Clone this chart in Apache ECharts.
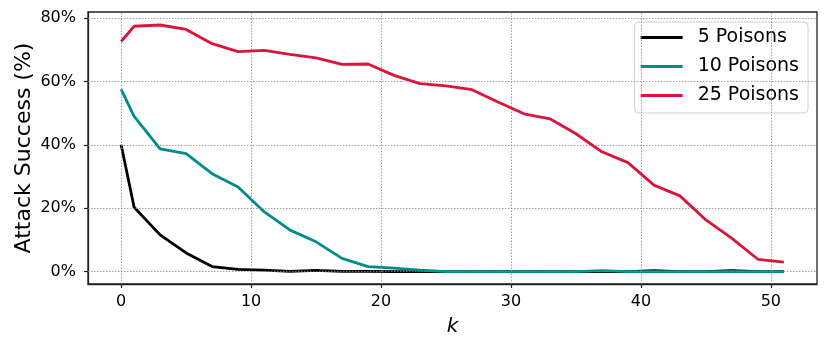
<!DOCTYPE html>
<html><head><meta charset="utf-8">
<script src="https://cdn.jsdelivr.net/npm/echarts@6/dist/echarts.min.js"></script>
<style>html,body{margin:0;padding:0;background:#fff}#c{width:830px;height:352px}</style>
</head><body><div id="c"></div>
<script>
const kValues = [0,1,3,5,7,9,11,13,15,17,19,21,23,25,27,29,31,33,35,37,39,41,43,45,47,49,51];
const poisons5 = [40.0,20.3,11.6,5.9,1.6,0.7,0.5,0.1,0.4,0.1,0.1,0,0,0,0,0,0,0,0,0,0,0.3,0,0,0.3,0,0];
const poisons10 = [57.5,49.0,38.7,37.2,30.9,26.7,18.9,13.1,9.4,4.2,1.6,1.1,0.5,0,0,0,0,0,0,0.3,0,0,0,0,0,0,0];
const poisons25 = [72.6,77.4,77.8,76.4,71.9,69.4,69.8,68.5,67.4,65.4,65.5,61.9,59.3,58.6,57.4,53.5,49.8,48.2,43.5,37.8,34.4,27.3,23.9,16.3,10.5,3.9,3.0];
const seriesNames = ['5 Poisons','10 Poisons','25 Poisons'];
const xTicks = [0,10,20,30,40,50];
const yTicks = [0,20,40,60,80];

const font = 'DejaVu Sans';
const gridStyle = {color:'#888', width:0.8, type:[1.5,1.5]};
function pairs(v){ return kValues.map((k,i)=>[k,v[i]]); }
const colors = ['#000000','#008B8B','#DC143C'];
const chart = echarts.init(document.getElementById('c'), null, {renderer:'canvas'});
const gridLines = {
  silent:true, symbol:'none', label:{show:false},
  lineStyle:gridStyle,
  data: xTicks.map(v=>({xAxis:v})).concat(yTicks.map(v=>({yAxis:v})))
};
const axisLineStyle = {show:true,onZero:false,lineStyle:{color:'#222',width:1.3}};
chart.setOption({
  animation:false,
  color:colors,
  grid:{left:88,right:13,top:12,bottom:68,show:true,borderColor:'#222',borderWidth:1.3,backgroundColor:'transparent'},
  legend:{
    orient:'vertical', right:22, top:22,
    data:seriesNames,
    itemWidth:42, itemHeight:3, icon:'rect', itemGap:10,
    backgroundColor:'rgba(255,255,255,0.85)', borderColor:'#d0d0d0', borderWidth:1, borderRadius:4,
    padding:[6,9,8,6],
    textStyle:{fontFamily:font,fontSize:19,color:'#000',padding:[0,0,0,10]}
  },
  xAxis:{
    type:'value', min:-2.55, max:53.55,
    name:'k', nameLocation:'middle', nameGap:33, nameMoveOverlap:false,
    nameTextStyle:{fontFamily:font,fontSize:20,fontStyle:'italic',color:'#000'},
    axisLine:axisLineStyle,
    axisTick:{show:true,inside:false,customValues:xTicks,length:4,lineStyle:{color:'#222',width:1.2}},
    axisLabel:{customValues:xTicks,fontFamily:font,fontSize:16,color:'#000',margin:10},
    splitLine:{show:false}
  },
  yAxis:{
    type:'value', min:-3.9, max:81.9,
    name:'Attack Success (%)', nameLocation:'middle', nameGap:53, nameMoveOverlap:false,
    nameTextStyle:{fontFamily:font,fontSize:22,color:'#000'},
    axisLine:axisLineStyle,
    axisTick:{show:true,inside:false,customValues:yTicks,length:4,lineStyle:{color:'#222',width:1.2}},
    axisLabel:{customValues:yTicks,fontFamily:font,fontSize:16,color:'#000',margin:12,formatter:v=>Math.round(v)+'%'},
    splitLine:{show:false}
  },
  series:[
    {name:seriesNames[0],type:'line',data:pairs(poisons5),showSymbol:false,lineStyle:{width:2.8},z:3,markLine:gridLines},
    {name:seriesNames[1],type:'line',data:pairs(poisons10),showSymbol:false,lineStyle:{width:2.8},z:4},
    {name:seriesNames[2],type:'line',data:pairs(poisons25),showSymbol:false,lineStyle:{width:2.8},z:5}
  ]
});
</script></body></html>
